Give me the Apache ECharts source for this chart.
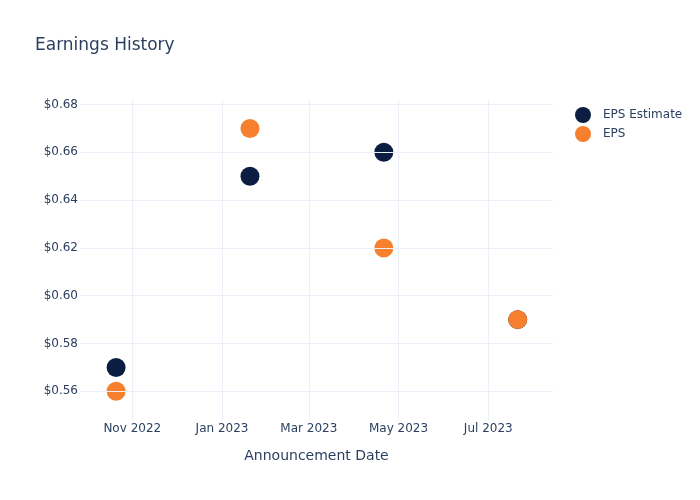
<!DOCTYPE html>
<html>
<head>
<meta charset="utf-8">
<script src="https://cdn.jsdelivr.net/npm/echarts@6/dist/echarts.min.js"></script>
<style>html,body{margin:0;padding:0;background:#fff}#c{width:700px;height:500px}</style>
</head>
<body>
<div id="c"></div>
<script>
// Data
const dates = ['2022-10-21', '2023-01-20', '2023-04-21', '2023-07-21'];
const epsEstimate = [0.57, 0.65, 0.66, 0.59];
const eps = [0.56, 0.67, 0.62, 0.59];
const xTickDates = ['2022-11-01', '2023-01-01', '2023-03-01', '2023-05-01', '2023-07-01'];
const xTickLabels = ['Nov 2022', 'Jan 2023', 'Mar 2023', 'May 2023', 'Jul 2023'];
const yTicks = [0.56, 0.58, 0.60, 0.62, 0.64, 0.66, 0.68];
const xRange = ['2022-09-26T11:00:00Z', '2023-08-14T00:00:00Z'];
const yRange = [0.548, 0.6819];

const FONT = 'DejaVu Sans';
const TXT = '#2a3f5f';
const GRID = '#ebf0f8';
const t = s => Date.parse(s);

const chart = echarts.init(document.getElementById('c'), null, {renderer: 'canvas'});
chart.setOption({
  animation: false,
  backgroundColor: '#fff',
  textStyle: {fontFamily: FONT, color: TXT},
  title: {
    text: 'Earnings History', left: 30, top: 32,
    textStyle: {fontFamily: FONT, fontSize: 17, fontWeight: 'normal', color: TXT}
  },
  legend: {
    orient: 'vertical', left: 570, top: 102, itemGap: 3,
    itemWidth: 16, itemHeight: 16, icon: 'circle',
    data: ['EPS Estimate', 'EPS'],
    textStyle: {fontFamily: FONT, fontSize: 12, color: TXT, padding: [0, 0, 0, 7]}
  },
  grid: {left: 80, right: 147, top: 100, bottom: 80, containLabel: false},
  xAxis: {
    type: 'value', min: t(xRange[0]), max: t(xRange[1]),
    axisLine: {show: false}, axisTick: {show: false}, axisLabel: {show: false}, splitLine: {show: false},
    name: 'Announcement Date', nameLocation: 'middle', nameGap: 29,
    nameTextStyle: {fontFamily: FONT, fontSize: 14, color: TXT}
  },
  yAxis: {
    type: 'value', min: yRange[0], max: yRange[1],
    axisLine: {show: false}, axisTick: {show: false}, axisLabel: {show: false}, splitLine: {show: false}
  },
  series: [
    {
      type: 'line', data: [], silent: true, z: 1,
      markLine: {
        silent: true, symbol: 'none', animation: false,
        lineStyle: {type: 'solid', color: GRID, width: 1},
        emphasis: {disabled: true},
        data: xTickDates.map((d, i) => ({
          xAxis: t(d),
          label: {show: true, position: 'start', distance: 3, formatter: xTickLabels[i],
                  fontFamily: FONT, fontSize: 12, color: TXT}
        })).concat(yTicks.map(v => ({
          yAxis: v,
          label: {show: true, position: 'start', distance: 2, formatter: '$' + v.toFixed(2),
                  fontFamily: FONT, fontSize: 12, color: TXT}
        })))
      }
    },
    {
      name: 'EPS Estimate', type: 'scatter', z: 3, symbolSize: 19,
      itemStyle: {color: '#0b1e41', opacity: 1},
      data: dates.map((d, i) => [t(d), epsEstimate[i]])
    },
    {
      name: 'EPS', type: 'scatter', z: 4, symbolSize: 19,
      itemStyle: {color: '#f7802f', opacity: 1},
      data: dates.map((d, i) => [t(d), eps[i]])
    }
  ]
});
</script>
</body>
</html>
